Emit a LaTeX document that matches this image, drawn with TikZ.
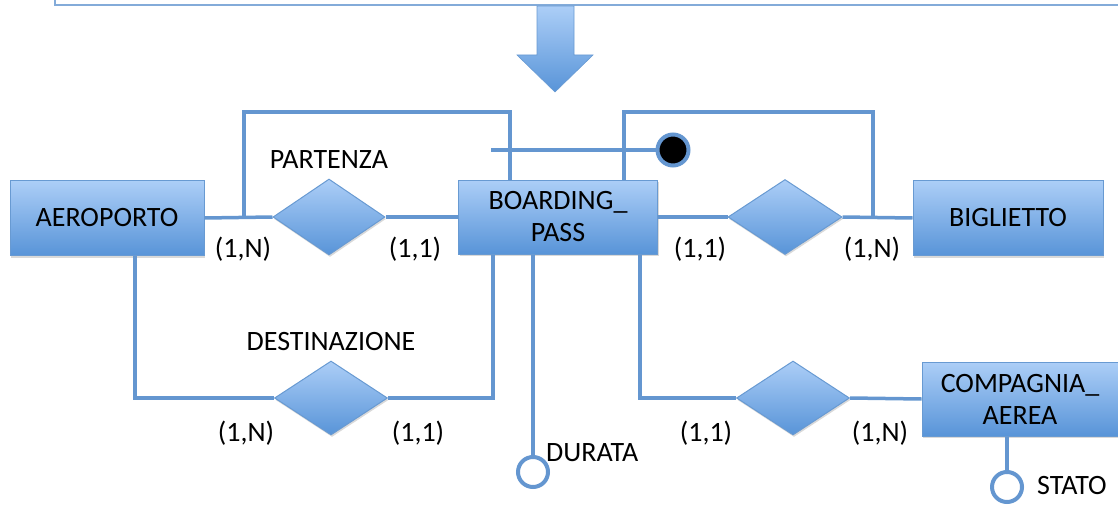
\documentclass[tikz,border=0pt]{standalone}
\usepackage{fontspec}
\setmainfont{Carlito}
\usetikzlibrary{shapes.geometric,shadows}
\definecolor{edge}{RGB}{100,150,208}
\definecolor{topblue}{RGB}{172,206,247}
\definecolor{botblue}{RGB}{88,148,216}
\definecolor{rim}{RGB}{104,154,210}
\begin{document}
\begin{tikzpicture}[x=1pt,y=-1pt,
  txt/.style={font=\fontsize{28}{32}\selectfont, text=black, align=center, inner sep=0pt},
  entity/.style={txt, rectangle, draw=rim, line width=1pt, top color=topblue, bottom color=botblue,
    drop shadow={shadow xshift=1pt, shadow yshift=-2pt, opacity=0.3}},
  rel/.style={diamond, draw=rim, line width=1pt, top color=topblue, bottom color=botblue, inner sep=0pt,
    drop shadow={shadow xshift=1pt, shadow yshift=-2pt, opacity=0.3}},
  link/.style={draw=edge, line width=3.5pt},
  attr/.style={circle, draw=edge, line width=4pt, fill=white, minimum size=30pt, inner sep=0pt},
  keydot/.style={circle, draw=edge, line width=4pt, fill=black, minimum size=31pt, inner sep=0pt},
  lbl/.style={txt}
]
\useasboundingbox (0,0) rectangle (1118,508);

% frame of the preceding panel and the transition arrow
\draw[draw=edge!80, line width=2pt] (55,0) -- (55,5) -- (1120,5);
\shade[top color=topblue, bottom color=botblue, draw=rim, line width=0.6pt]
  (537,6) -- (574,6) -- (574,55) -- (593,55) -- (555,92) -- (517,55) -- (537,55) -- cycle;

% entities
\node[entity, minimum width=194pt, minimum height=75pt] (aero) at (107,218) {AEROPORTO};
\node[entity, minimum width=199pt, minimum height=74pt] (bp) at (558,217) {BOARDING\_\\PASS};
\node[entity, minimum width=190pt, minimum height=75pt] (big) at (1008,218) {BIGLIETTO};
\node[entity, minimum width=196pt, minimum height=74pt] (ca) at (1020,399) {COMPAGNIA\_\\AEREA};

% relationships
\node[rel, minimum width=112pt, minimum height=76pt] (r1) at (329,217) {};
\node[rel, minimum width=114pt, minimum height=75pt] (r2) at (785,217) {};
\node[rel, minimum width=113pt, minimum height=74pt] (r3) at (331,398) {};
\node[rel, minimum width=113pt, minimum height=74pt] (r4) at (793,398) {};

% corner points of the connectors
\coordinate (k1) at (244,112);
\coordinate (k2) at (510,112);
\coordinate (k3) at (624,112);
\coordinate (k4) at (873,112);
\coordinate (k5) at (135,398);
\coordinate (k6) at (493,398);
\coordinate (k7) at (533,300);
\coordinate (k8) at (640,398);
\coordinate (id0) at (491,150);

% connectors
\draw[link] (aero.east) -- (r1.west);
\draw[link] (r1.east) -- (bp.west);
\draw[link] (bp.east) -- (r2.west);
\draw[link] (r2.east) -- (big.west);
\draw[link] (k1 |- r1.west) -- (k1) -- (k2) -- (k2 |- bp.north);
\draw[link] (k3 |- bp.north) -- (k3) -- (k4) -- (k4 |- r2.east);
\draw[link] (k5 |- aero.south) -- (k5) -- (r3.west);
\draw[link] (r3.east) -- (k6) -- (k6 |- bp.south);
\draw[link] (k8 |- bp.south) -- (k8) -- (r4.west);
\draw[link] (r4.east) -- (ca.west);

% identifier of BOARDING_PASS
\node[keydot] (key) at (673,150) {};
\draw[link] (id0) -- (key.west);

% attributes
\node[attr] (dur) at (533,472) {};
\draw[link] (k7 |- bp.south) -- (dur.north);
\node[lbl, anchor=west] (durt) at (546,453) {DURATA};
\node[attr] (sta) at (1007,487) {};
\draw[link] (sta |- ca.south) -- (sta.north);
\node[lbl, anchor=west] (stat) at (1037,486) {STATO};

% relationship names
\node[lbl] (n1) at (329,160) {PARTENZA};
\node[lbl] (n3) at (331,342) {DESTINAZIONE};

% cardinalities
\node[lbl] (c1) at (243,249) {(1,N)};
\node[lbl] (c2) at (415,249) {(1,1)};
\node[lbl] (c3) at (700,249) {(1,1)};
\node[lbl] (c4) at (872,249) {(1,N)};
\node[lbl] (c5) at (246,433) {(1,N)};
\node[lbl] (c6) at (418,433) {(1,1)};
\node[lbl] (c7) at (706,433) {(1,1)};
\node[lbl] (c8) at (880,433) {(1,N)};
\end{tikzpicture}
\end{document}
